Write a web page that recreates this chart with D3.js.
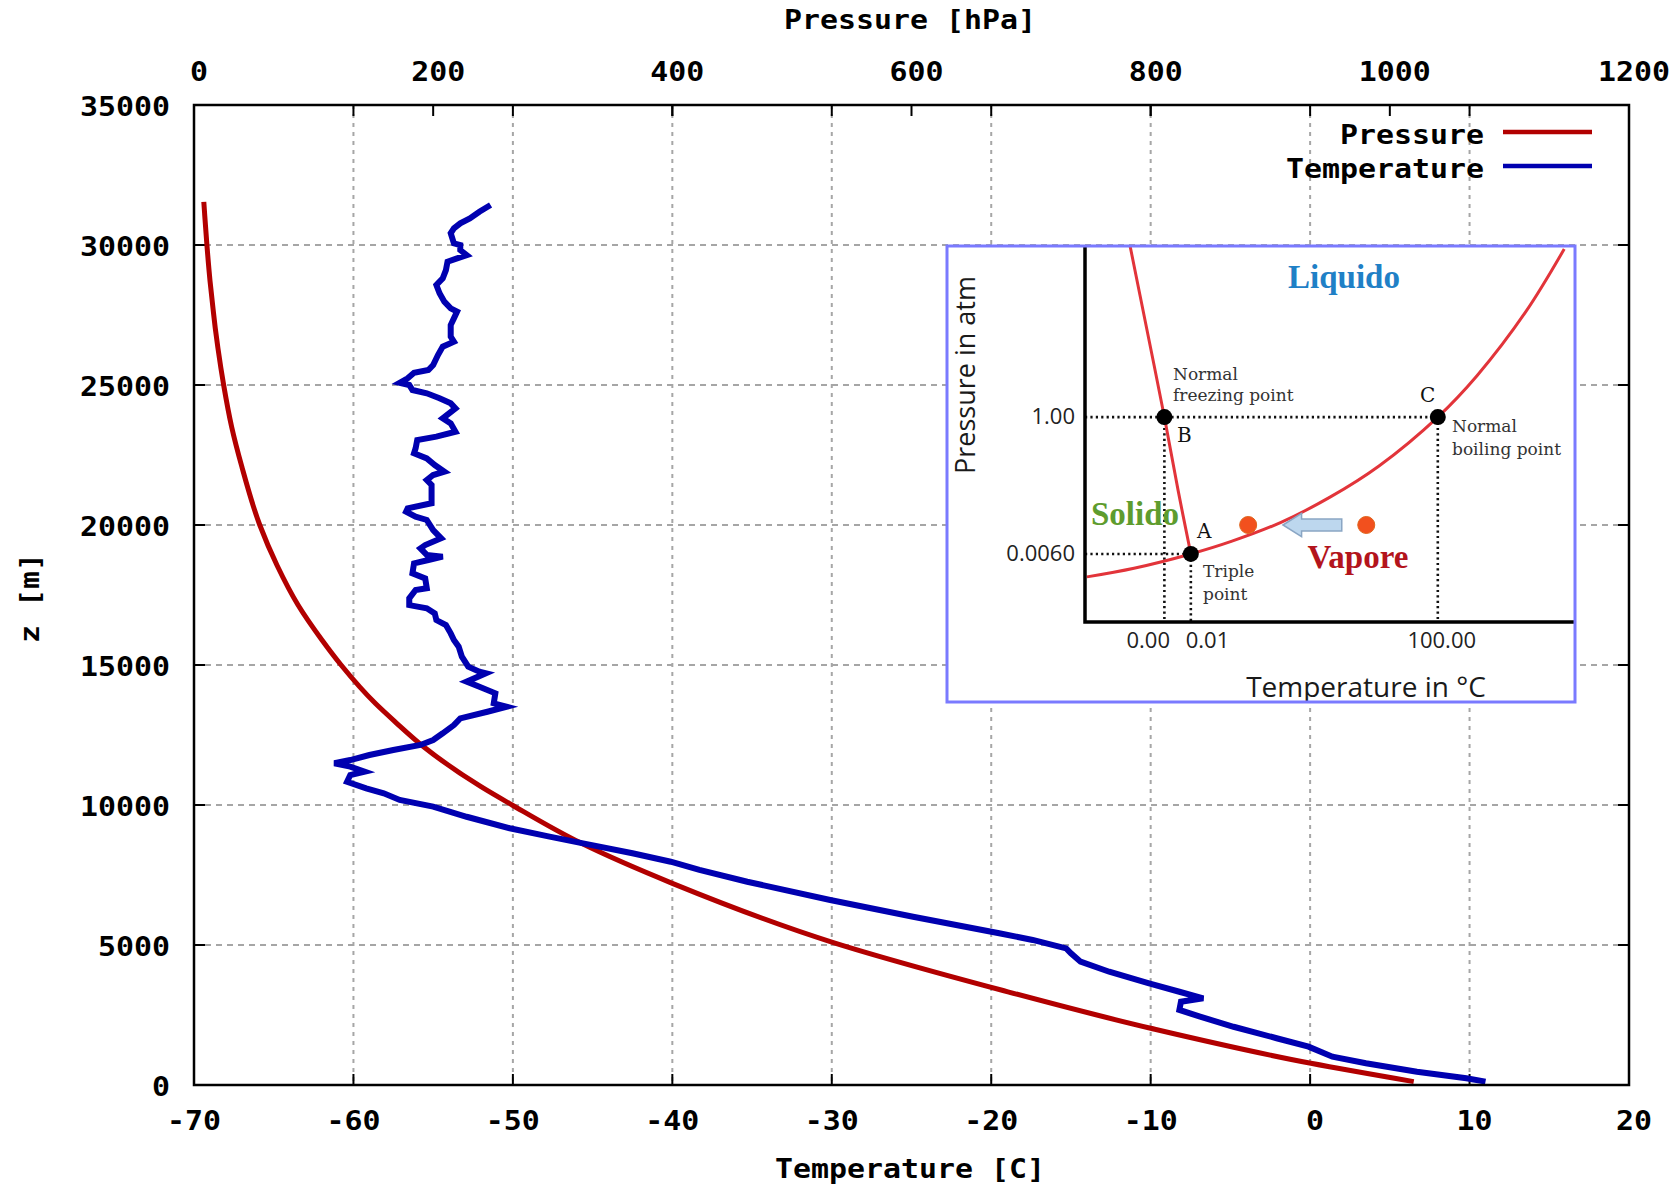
<!DOCTYPE html>
<html><head><meta charset="utf-8">
<script src="https://cdn.jsdelivr.net/npm/d3@7"></script>
<style>html,body{margin:0;padding:0;background:#fff;} svg{display:block;}</style>
</head><body>
<svg id="chart" width="1679" height="1186"></svg>
<script>
// ---------------- data ----------------
const tempTicks = [-70, -60, -50, -40, -30, -20, -10, 0, 10, 20];
const pressureTicks = [0, 200, 400, 600, 800, 1000, 1200];
const altitudeTicks = [0, 5000, 10000, 15000, 20000, 25000, 30000, 35000];

const pressureAlt = [120, 775, 2025, 3393, 5096, 7203, 8631, 10000, 10654, 12082, 12979, 13614, 15000, 15893, 17143, 18553, 20000, 22082, 23500, 25000, 26321, 27025, 27729, 28718, 30000, 31046, 31539];
const pressureVal = [1020, 934, 800, 675, 534, 400, 324, 266, 240, 192, 168, 152, 123, 107, 87, 69.5, 55, 40, 31.5, 24.8, 20, 17.8, 15.9, 13.4, 10.8, 9, 8.2];

const soundingAlt = [120, 240, 475, 775, 1010, 1370, 1670, 2080, 2440, 2680, 2975, 3095, 3330, 3630, 4045, 4405, 4705, 4880, 5180, 5420, 6010, 6605, 7260, 7680, 7975, 8275, 8630, 8870, 9170, 9580, 9940, 10180, 10420, 10595, 10830, 11070, 11190, 11370, 11490, 11605, 11785, 11965, 12145, 12320, 12560, 12855, 13095, 13330, 13510, 13630, 13990, 14225, 14405, 14705, 14760, 14940, 15295, 15655, 15890, 16130, 16430, 16605, 16845, 17025, 17140, 17380, 17680, 17740, 18095, 18275, 18630, 18750, 18870, 18930, 19165, 19285, 19525, 19820, 20180, 20295, 20475, 20595, 20775, 20955, 21430, 21605, 21785, 21905, 22140, 22380, 22560, 22740, 23035, 23155, 23330, 23630, 23810, 24165, 24345, 24525, 24705, 24820, 25000, 25080, 25240, 25440, 25535, 25715, 26070, 26370, 26545, 26725, 27140, 27380, 27620, 27740, 27975, 28275, 28570, 28810, 29105, 29405, 29525, 29640, 29820, 30000, 30060, 30420, 30595, 30775, 30950, 31190, 31430];
const soundingTemp = [11.0, 9.8, 6.7, 3.5, 1.4, -0.1, -2.1, -4.8, -6.9, -8.2, -8.1, -6.7, -8.2, -10.1, -12.6, -14.4, -15.0, -15.3, -17.4, -19.5, -24.9, -30.1, -35.3, -38.3, -40.1, -42.5, -45.6, -47.7, -50.2, -52.9, -55.0, -57.1, -58.1, -59.2, -60.4, -60.2, -59.3, -60.2, -61.2, -60.2, -59.0, -57.5, -55.8, -55.0, -54.4, -53.7, -53.3, -51.6, -50.4, -51.2, -51.1, -52.1, -52.9, -51.7, -52.1, -52.8, -53.2, -53.4, -53.7, -53.9, -54.2, -54.8, -54.9, -55.4, -56.5, -56.5, -56.1, -55.4, -55.5, -56.3, -56.2, -55.3, -54.4, -55.4, -55.8, -55.5, -54.5, -55.0, -55.4, -56.1, -56.7, -56.6, -55.1, -55.1, -55.1, -55.4, -55.0, -54.3, -54.9, -55.4, -56.2, -56.1, -56.0, -54.8, -53.6, -53.9, -54.4, -53.6, -53.9, -54.6, -55.4, -56.3, -56.5, -57.1, -56.6, -56.2, -55.3, -55.0, -54.7, -54.4, -53.7, -53.9, -53.9, -53.7, -53.5, -53.9, -54.3, -54.6, -54.8, -54.4, -54.2, -54.1, -53.5, -52.9, -53.3, -53.3, -53.7, -53.9, -53.7, -53.3, -52.7, -52.1, -51.4];

const seriesNames = ["Pressure", "Temperature"];

// inset (phase diagram), schematic units 0..100 on both axes
const fusionX = [9.2, 12.6, 16.2, 19.0, 21.6];
const fusionY = [100, 78, 54.5, 35, 18.1];
const vaporX = [0.4, 10, 21.6, 30, 40, 50, 60, 72, 80, 90, 97.8];
const vaporY = [12.0, 14.3, 18.1, 21.5, 26.5, 33.2, 41.5, 54.5, 65.5, 82.6, 99.2];
const phasePointNames = ["A", "B", "C"];
const phasePointX = [21.6, 16.2, 72.0];
const phasePointY = [18.1, 54.5, 54.5];
const insetXLabels = ["0.00", "0.01", "100.00"];
const insetXLabelPos = [12.9, 25.0, 72.8];
const insetYLabels = ["1.00", "0.0060"];
const insetYLabelPos = [54.5, 18.1];
const stateDotX = [33.3, 57.4];
const stateDotY = [25.8, 25.8];

// ---------------- layout ----------------
const L = 194, R = 1629, T = 105, B = 1085;
const svg = d3.select("#chart");
const x = d3.scaleLinear().domain([-70, 20]).range([L, R]);
const x2 = d3.scaleLinear().domain([0, 1200]).range([L, R]);
const y = d3.scaleLinear().domain([0, 35000]).range([B, T]);

const RED = "#b20000", BLUE = "#0000b0";
const monoFont = "'DejaVu Sans Mono', 'Liberation Mono', monospace";
const CW = 18;

function mono(sel, str) {
  sel.text(str)
    .attr("font-family", monoFont)
    .attr("font-weight", "bold")
    .attr("font-size", 26)
    .attr("fill", "#000")
    .attr("textLength", str.length * CW)
    .attr("lengthAdjust", "spacingAndGlyphs");
  return sel;
}

// grid
const grid = svg.append("g");
grid.selectAll("line.v").data(tempTicks.filter(t => t > -70 && t < 20)).join("line")
  .attr("x1", d => x(d)).attr("x2", d => x(d)).attr("y1", T).attr("y2", B)
  .attr("stroke", "#a6a6a6").attr("stroke-width", 2).attr("stroke-dasharray", "4,5");
grid.selectAll("line.h").data(altitudeTicks.filter(t => t > 0 && t < 35000)).join("line")
  .attr("x1", L).attr("x2", R).attr("y1", d => y(d)).attr("y2", d => y(d))
  .attr("stroke", "#a6a6a6").attr("stroke-width", 2).attr("stroke-dasharray", "6,5");

// ticks
const tk = svg.append("g").attr("stroke", "#000").attr("stroke-width", 2);
const TL = 11;
tempTicks.forEach(t => {
  tk.append("line").attr("x1", x(t)).attr("x2", x(t)).attr("y1", B).attr("y2", B - TL);
  tk.append("line").attr("x1", x(t)).attr("x2", x(t)).attr("y1", T).attr("y2", T + TL);
});
pressureTicks.forEach(p => {
  tk.append("line").attr("x1", x2(p)).attr("x2", x2(p)).attr("y1", T).attr("y2", T + TL);
});
altitudeTicks.forEach(a => {
  tk.append("line").attr("x1", L).attr("x2", L + TL).attr("y1", y(a)).attr("y2", y(a));
  tk.append("line").attr("x1", R).attr("x2", R - TL).attr("y1", y(a)).attr("y2", y(a));
});

// tick labels
tempTicks.forEach(t => {
  mono(svg.append("text").attr("x", x(t) + (t < 0 ? 0 : 5)).attr("y", 1130).attr("text-anchor", "middle"), String(t));
});
pressureTicks.forEach(p => {
  mono(svg.append("text").attr("x", x2(p) + 5).attr("y", 81).attr("text-anchor", "middle"), String(p));
});
altitudeTicks.forEach(a => {
  mono(svg.append("text").attr("x", 170).attr("y", y(a) + 10.5).attr("text-anchor", "end"), String(a));
});

// axis titles
mono(svg.append("text").attr("x", 910).attr("y", 29).attr("text-anchor", "middle"), "Pressure [hPa]");
mono(svg.append("text").attr("x", 910).attr("y", 1178).attr("text-anchor", "middle"), "Temperature [C]");
mono(svg.append("text").attr("transform", "translate(39,598) rotate(-90)").attr("text-anchor", "middle"), "z [m]");

// data lines
const presData = pressureAlt.map((z, i) => ({ z, p: pressureVal[i] }));
const tempData = soundingAlt.map((z, i) => ({ z, t: soundingTemp[i] }));
svg.append("path").datum(presData)
  .attr("d", d3.line().x(d => x2(d.p)).y(d => y(d.z)).curve(d3.curveMonotoneY))
  .attr("fill", "none").attr("stroke", RED).attr("stroke-width", 5);
svg.append("path").datum(tempData)
  .attr("d", d3.line().x(d => x(d.t)).y(d => y(d.z)))
  .attr("fill", "none").attr("stroke", BLUE).attr("stroke-width", 6).attr("stroke-linejoin", "miter");

// border
svg.append("rect").attr("x", L).attr("y", T).attr("width", R - L).attr("height", B - T)
  .attr("fill", "none").attr("stroke", "#000").attr("stroke-width", 2.5);

// legend
const legColors = [RED, BLUE];
seriesNames.forEach((n, i) => {
  mono(svg.append("text").attr("x", 1484).attr("y", 144 + i * 34).attr("text-anchor", "end"), n);
  svg.append("line").attr("x1", 1503).attr("x2", 1592).attr("y1", 132 + i * 34).attr("y2", 132 + i * 34)
    .attr("stroke", legColors[i]).attr("stroke-width", 4.5);
});

// ---------------- inset ----------------
const ix = d3.scaleLinear().domain([0, 100]).range([1085, 1575]);
const iy = d3.scaleLinear().domain([0, 100]).range([622, 246]);
const inset = svg.append("g");
inset.append("defs").append("clipPath").attr("id", "insetClip")
  .append("rect").attr("x", 948).attr("y", 247).attr("width", 626).attr("height", 454);
inset.append("rect").attr("x", 947).attr("y", 246).attr("width", 628).attr("height", 456)
  .attr("fill", "#fff");
const ig = inset.append("g").attr("clip-path", "url(#insetClip)");

// dotted guide lines
const dotted = { stroke: "#111", "stroke-width": 2.6, "stroke-dasharray": "2.2,3.2" };
function dl(x1, y1, x2v, y2v) {
  const l = ig.append("line").attr("x1", ix(x1)).attr("y1", iy(y1)).attr("x2", ix(x2v)).attr("y2", iy(y2v));
  Object.entries(dotted).forEach(([k, v]) => l.attr(k, v));
}
dl(0, phasePointY[1], phasePointX[2], phasePointY[2]);
dl(0, phasePointY[0], phasePointX[0], phasePointY[0]);
phasePointX.forEach((px, i) => dl(px, phasePointY[i], px, 0));

// phase curves
const insetLine = d3.line().x(d => ix(d[0])).y(d => iy(d[1])).curve(d3.curveCatmullRom);
ig.append("path").datum(fusionX.map((v, i) => [v, fusionY[i]])).attr("d", insetLine)
  .attr("fill", "none").attr("stroke", "#e2343a").attr("stroke-width", 3);
ig.append("path").datum(vaporX.map((v, i) => [v, vaporY[i]])).attr("d", insetLine)
  .attr("fill", "none").attr("stroke", "#e2343a").attr("stroke-width", 3);

// axes of the inset
ig.append("path").attr("d", `M${ix(0)},${iy(100)}V${iy(0)}H${ix(100)}`)
  .attr("fill", "none").attr("stroke", "#000").attr("stroke-width", 3.5);

// phase points
ig.selectAll("circle.pp").data(phasePointX).join("circle")
  .attr("cx", d => ix(d)).attr("cy", (d, i) => iy(phasePointY[i])).attr("r", 8).attr("fill", "#000");

// state dots & arrow
ig.selectAll("circle.sd").data(stateDotX).join("circle")
  .attr("cx", d => ix(d)).attr("cy", (d, i) => iy(stateDotY[i])).attr("r", 8.5)
  .attr("fill", "#f2501e").attr("stroke", "#e0661e").attr("stroke-width", 1);
const ay = stateDotY[0];
const arrowPts = [[40.4, ay], [44.2, ay + 3.1], [44.2, ay + 1.6], [52.4, ay + 1.6], [52.4, ay - 1.6], [44.2, ay - 1.6], [44.2, ay - 3.1]];
ig.append("polygon").attr("points", arrowPts.map(p => [ix(p[0]), iy(p[1])].join(",")).join(" "))
  .attr("fill", "#bdd7ee").attr("stroke", "#8aa6c4").attr("stroke-width", 1.5);

// inset texts
const serif = "'DejaVu Serif', serif";
const bserif = "'Liberation Serif', 'Times New Roman', serif";
const sans = "'Open Sans', 'Liberation Sans', sans-serif";
function itext(tx, ty, str, o) {
  const t = ig.append("text").attr("x", tx).attr("y", ty).text(str);
  Object.entries(o).forEach(([k, v]) => t.attr(k, v));
  return t;
}
itext(1344, 288, "Liquido", { "font-family": bserif, "font-weight": "bold", "font-size": 33, fill: "#1f80c6", "text-anchor": "middle" });
itext(1091, 525, "Solido", { "font-family": bserif, "font-weight": "bold", "font-size": 33, fill: "#5e9c2e" });
itext(1358, 568, "Vapore", { "font-family": bserif, "font-weight": "bold", "font-size": 33, fill: "#b3141c", "text-anchor": "middle" });
const letterPos = [[1197, 538], [1177, 442], [1420, 402]];
phasePointNames.forEach((n, i) => itext(letterPos[i][0], letterPos[i][1], n, { "font-family": serif, "font-size": 20, fill: "#111" }));
const small = { "font-family": serif, "font-size": 17, fill: "#333" };
itext(1173, 380, "Normal", small); itext(1173, 401, "freezing point", small);
itext(1452, 432, "Normal", small); itext(1452, 455, "boiling point", small);
itext(1203, 577, "Triple", small); itext(1203, 600, "point", small);
insetYLabels.forEach((s, i) => itext(1075, iy(insetYLabelPos[i]) + 7, s, { "font-family": sans, "font-size": 22, fill: "#222", "text-anchor": "end" }));
insetXLabels.forEach((s, i) => itext(ix(insetXLabelPos[i]), 648, s, { "font-family": sans, "font-size": 22, fill: "#222", "text-anchor": "middle" }));
itext(1366, 697, "Temperature in °C", { "font-family": sans, "font-size": 28, fill: "#1a1a1a", "text-anchor": "middle" });
itext(0, 0, "Pressure in atm", { "font-family": sans, "font-size": 27, fill: "#1a1a1a", "text-anchor": "middle", transform: "translate(975,375) rotate(-90)" });

// inset frame
inset.append("rect").attr("x", 947).attr("y", 246).attr("width", 628).attr("height", 456)
  .attr("fill", "none").attr("stroke", "#7a7aff").attr("stroke-width", 3);
</script>
</body></html>
